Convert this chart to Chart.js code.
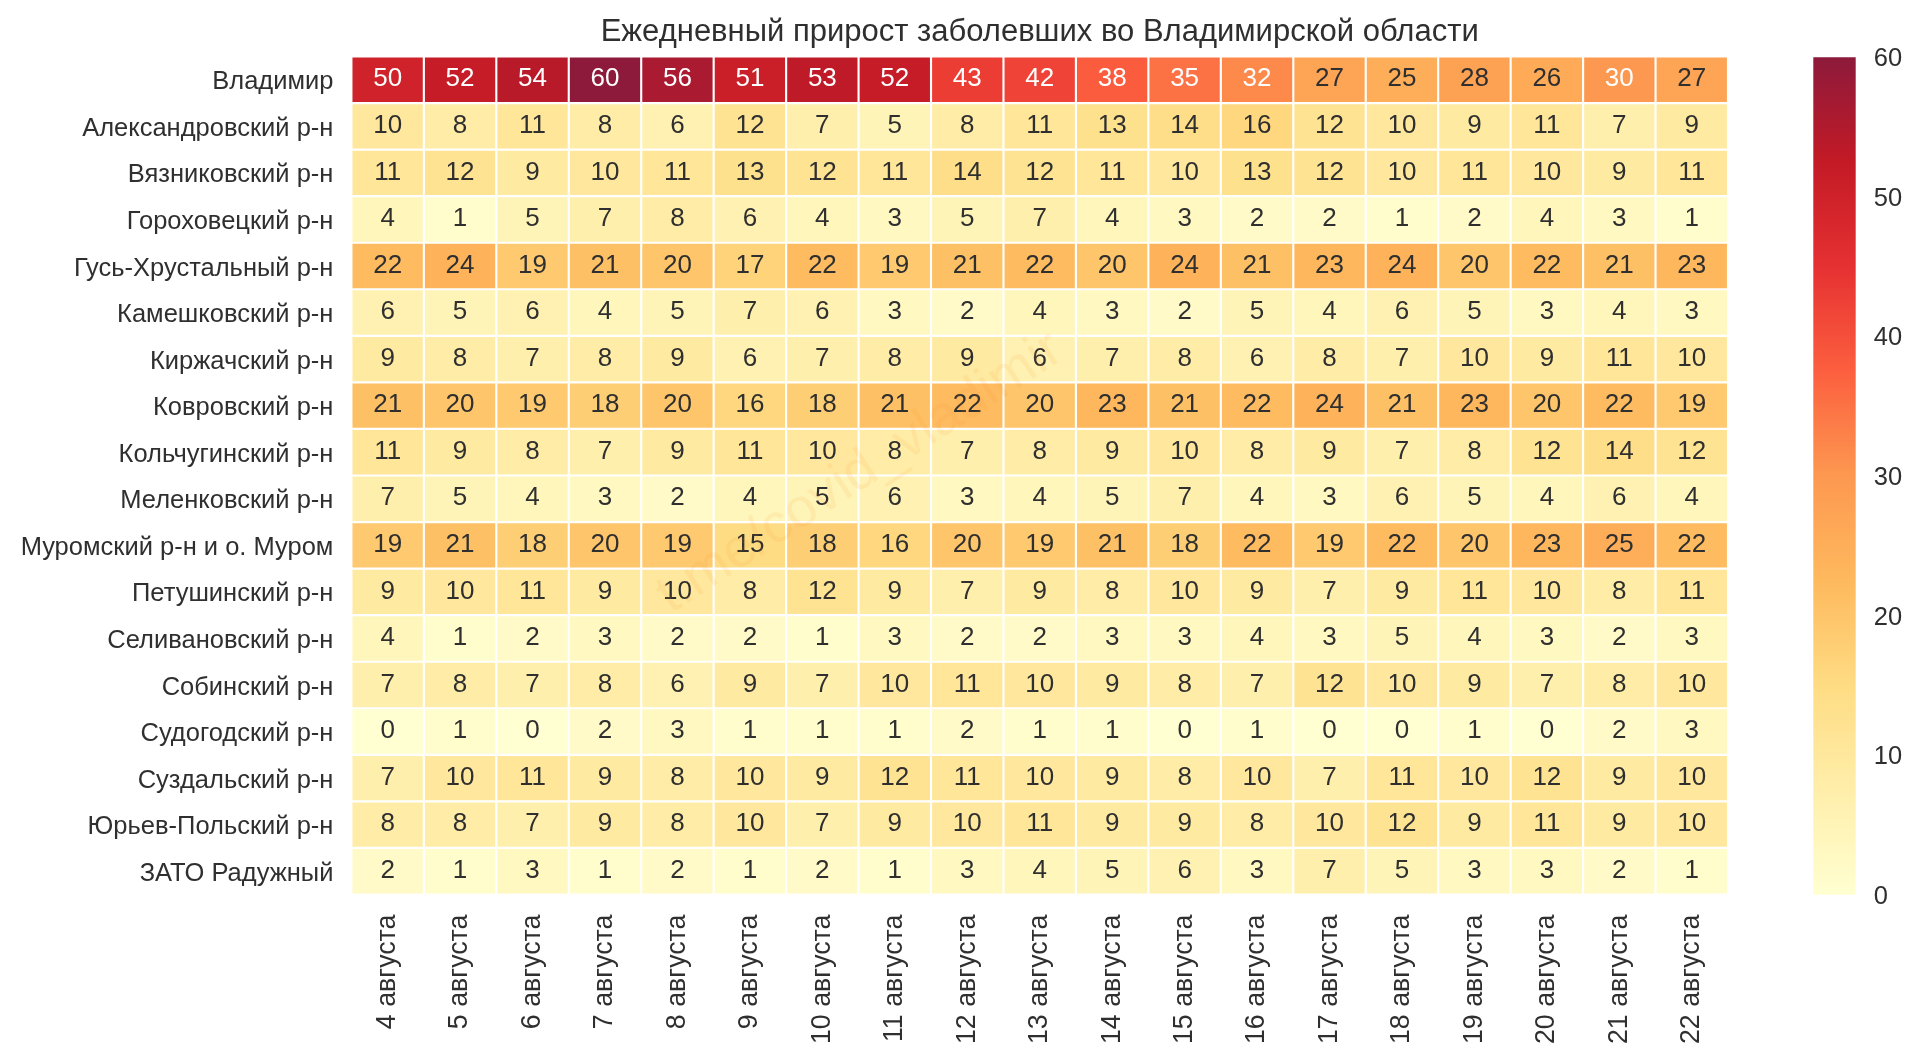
<!DOCTYPE html>
<html>
<head>
<meta charset="utf-8">
<title>Ежедневный прирост заболевших</title>
<script src="https://cdn.jsdelivr.net/npm/chart.js@4"></script>
<style>
  html, body { margin: 0; padding: 0; background: #fff; overflow: hidden; }
  #heatmap { position: absolute; left: 0; top: 0; }
  #colorbar { position: absolute; left: 1780px; top: 0; }
</style>
</head>
<body>
<canvas id="heatmap" width="1780" height="1056"></canvas>
<canvas id="colorbar" width="140" height="1056"></canvas>
<script>
const districts = ['Владимир', 'Александровский р-н', 'Вязниковский р-н', 'Гороховецкий р-н',
    'Гусь-Хрустальный р-н', 'Камешковский р-н', 'Киржачский р-н', 'Ковровский р-н',
    'Кольчугинский р-н', 'Меленковский р-н', 'Муромский р-н и о. Муром', 'Петушинский р-н',
    'Селивановский р-н', 'Собинский р-н', 'Судогодский р-н', 'Суздальский р-н',
    'Юрьев-Польский р-н', 'ЗАТО Радужный'];

const days = ['4 августа', '5 августа', '6 августа', '7 августа', '8 августа', '9 августа',
    '10 августа', '11 августа', '12 августа', '13 августа', '14 августа', '15 августа',
    '16 августа', '17 августа', '18 августа', '19 августа', '20 августа', '21 августа', '22 августа'];

// one row per district, one column per day
const counts = [
    [50, 52, 54, 60, 56, 51, 53, 52, 43, 42, 38, 35, 32, 27, 25, 28, 26, 30, 27],
    [10, 8, 11, 8, 6, 12, 7, 5, 8, 11, 13, 14, 16, 12, 10, 9, 11, 7, 9],
    [11, 12, 9, 10, 11, 13, 12, 11, 14, 12, 11, 10, 13, 12, 10, 11, 10, 9, 11],
    [4, 1, 5, 7, 8, 6, 4, 3, 5, 7, 4, 3, 2, 2, 1, 2, 4, 3, 1],
    [22, 24, 19, 21, 20, 17, 22, 19, 21, 22, 20, 24, 21, 23, 24, 20, 22, 21, 23],
    [6, 5, 6, 4, 5, 7, 6, 3, 2, 4, 3, 2, 5, 4, 6, 5, 3, 4, 3],
    [9, 8, 7, 8, 9, 6, 7, 8, 9, 6, 7, 8, 6, 8, 7, 10, 9, 11, 10],
    [21, 20, 19, 18, 20, 16, 18, 21, 22, 20, 23, 21, 22, 24, 21, 23, 20, 22, 19],
    [11, 9, 8, 7, 9, 11, 10, 8, 7, 8, 9, 10, 8, 9, 7, 8, 12, 14, 12],
    [7, 5, 4, 3, 2, 4, 5, 6, 3, 4, 5, 7, 4, 3, 6, 5, 4, 6, 4],
    [19, 21, 18, 20, 19, 15, 18, 16, 20, 19, 21, 18, 22, 19, 22, 20, 23, 25, 22],
    [9, 10, 11, 9, 10, 8, 12, 9, 7, 9, 8, 10, 9, 7, 9, 11, 10, 8, 11],
    [4, 1, 2, 3, 2, 2, 1, 3, 2, 2, 3, 3, 4, 3, 5, 4, 3, 2, 3],
    [7, 8, 7, 8, 6, 9, 7, 10, 11, 10, 9, 8, 7, 12, 10, 9, 7, 8, 10],
    [0, 1, 0, 2, 3, 1, 1, 1, 2, 1, 1, 0, 1, 0, 0, 1, 0, 2, 3],
    [7, 10, 11, 9, 8, 10, 9, 12, 11, 10, 9, 8, 10, 7, 11, 10, 12, 9, 10],
    [8, 8, 7, 9, 8, 10, 7, 9, 10, 11, 9, 9, 8, 10, 12, 9, 11, 9, 10],
    [2, 1, 3, 1, 2, 1, 2, 1, 3, 4, 5, 6, 3, 7, 5, 3, 3, 2, 1]
];

const colorbarTicks = [0, 10, 20, 30, 40, 50, 60];
const valueMax = 60;

// YlOrRd at alpha 0.9 on white
const colorStops = ['#ffffd1', '#ffeeaa', '#fedc83', '#feb95d', '#fd9850', '#fc5f3f', '#e63132', '#c31a26', '#8d1a3b'];

const FONT = '"Liberation Sans", Arial, sans-serif';
const TEXT_COLOR = '#2f2f2f';

function hexToRgb(hex) {
    return [1, 3, 5].map(i => parseInt(hex.slice(i, i + 2), 16));
}

function colorFor(value) {
    const pos = value / valueMax * (colorStops.length - 1);
    const i = Math.min(Math.floor(pos), colorStops.length - 2);
    const a = hexToRgb(colorStops[i]);
    const b = hexToRgb(colorStops[i + 1]);
    const t = pos - i;
    const mix = a.map((c, k) => Math.round(c + (b[k] - c) * t));
    return `rgb(${mix[0]},${mix[1]},${mix[2]})`;
}

// each district is a dataset of floating bars one row high
const rowDatasets = districts.map((name, row) => ({
    label: name,
    data: days.map((day, col) => ({ x: day, y: [row, row + 1], v: counts[row][col] })),
    backgroundColor: ctx => colorFor(ctx.raw.v),
    borderColor: '#ffffff',
    borderWidth: 1.4,
    borderSkipped: false,
    categoryPercentage: 1,
    barPercentage: 1,
    grouped: false
}));

//numbers inside the cells and the faint channel mark
const cellLabels = {
    id: 'cellLabels',
    afterDatasetsDraw(chart) {
        const c = chart.ctx;
        c.save();
        c.font = '26px ' + FONT;
        c.textAlign = 'center';
        c.textBaseline = 'middle';
        chart.data.datasets.forEach((ds, d) => {
            chart.getDatasetMeta(d).data.forEach((bar, i) => {
                const value = ds.data[i].v;
                const center = bar.getCenterPoint();
                c.fillStyle = value >= 30 ? '#ffffff' : TEXT_COLOR;
                c.fillText(value, center.x, center.y - 0.5);
            });
        });
        c.restore();

        c.save();
        c.translate(860, 473);
        c.rotate(-33 * Math.PI / 180);
        c.font = '55px ' + FONT;
        c.textAlign = 'center';
        c.textBaseline = 'middle';
        c.fillStyle = 'rgba(250, 150, 40, 0.1)';
        c.fillText('t.me/covid_vladimir', 0, 0);
        c.restore();
    }
};

new Chart(document.getElementById('heatmap'), {
    type: 'bar',
    data: { labels: days, datasets: rowDatasets },
    plugins: [cellLabels],
    options: {
        responsive: false,
        animation: false,
        parsing: { xAxisKey: 'x', yAxisKey: 'y' },
        layout: { padding: { top: 0, right: 52, bottom: 0, left: 0 } },
        plugins: {
            legend: { display: false },
            tooltip: { enabled: false },
            title: {
                display: true,
                fullSize: false,
                text: 'Ежедневный прирост заболевших во Владимирской области',
                color: TEXT_COLOR,
                font: { family: FONT, size: 31, weight: 'normal' },
                padding: { top: 14, bottom: 5.3 }
            }
        },
        scales: {
            x: {
                type: 'category',
                grid: { display: false, drawTicks: false },
                border: { display: false },
                afterFit: scale => { scale.height = 161.5; },
                ticks: {
                    font: { family: FONT, size: 26.8 },
                    color: TEXT_COLOR,
                    autoSkip: false,
                    minRotation: 90,
                    maxRotation: 90,
                    padding: 20
                }
            },
            y: {
                type: 'linear',
                reverse: true,
                min: 0,
                max: districts.length,
                grid: { display: false, drawTicks: false },
                border: { display: false },
                afterFit: scale => { scale.width = 351.4; },
                afterBuildTicks: scale => {
                    scale.ticks = districts.map((name, row) => ({ value: row + 0.5 }));
                },
                ticks: {
                    font: { family: FONT, size: 25.5 },
                    color: TEXT_COLOR,
                    padding: 18,
                    labelOffset: 2.5,
                    callback: value => districts[Math.floor(value)]
                }
            }
        }
    }
});

// the legend bar: one floating bar over the full range, filled with the same colours
new Chart(document.getElementById('colorbar'), {
    type: 'bar',
    data: {
        labels: [''],
        datasets: [{
            data: [[0, valueMax]],
            backgroundColor: ctx => {
                const area = ctx.chart.chartArea;
                if (!area) return colorStops[0];
                const gradient = ctx.chart.ctx.createLinearGradient(0, area.bottom, 0, area.top);
                colorStops.forEach((stop, i) => gradient.addColorStop(i / (colorStops.length - 1), stop));
                return gradient;
            },
            categoryPercentage: 1,
            barPercentage: 1
        }]
    },
    options: {
        responsive: false,
        animation: false,
        layout: { padding: { top: 57.3, bottom: 161.3, left: 33.3, right: 0 } },
        plugins: { legend: { display: false }, tooltip: { enabled: false } },
        scales: {
            x: { display: false },
            y: {
                position: 'right',
                min: 0,
                max: valueMax,
                grid: { display: false, drawTicks: false },
                border: { display: false },
                afterFit: scale => { scale.width = 64.3; },
                afterBuildTicks: scale => {
                    scale.ticks = colorbarTicks.map(value => ({ value: value }));
                },
                ticks: {
                    font: { family: FONT, size: 25.5 },
                    color: TEXT_COLOR,
                    padding: 18,
                    labelOffset: 2
                }
            }
        }
    }
});
</script>
</body>
</html>
